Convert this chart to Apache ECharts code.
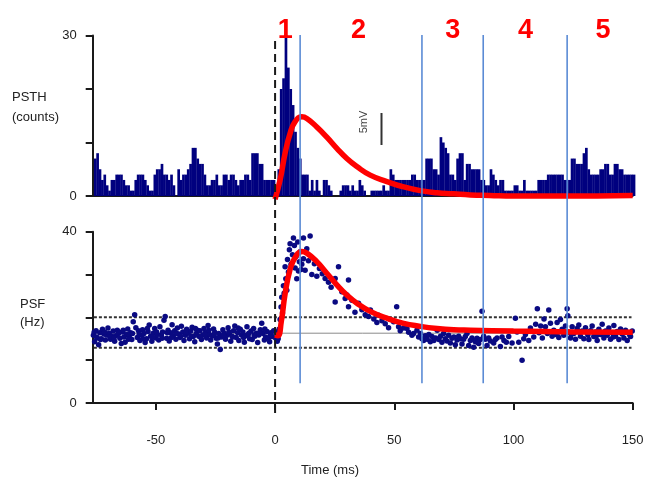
<!DOCTYPE html>
<html><head><meta charset="utf-8">
<script src="https://cdn.jsdelivr.net/npm/echarts@6/dist/echarts.min.js"></script>
<style>html,body{margin:0;padding:0;background:#fff}#c{width:652px;height:487px}</style>
</head><body><div id="c"></div>
<script>
// ---- data ----
const psthStart = -76; // first 1-ms bin start (ms)
const psthCounts = [
  7,8,5,3,4,2,1,3,3,4, 4,4,3,2,2,1,1,3,4,4, 4,3,2,1,1,4,5,5,6,4,
  4,3,4,2,0,5,3,4,4,5, 6,9,9,7,6,6,4,2,2,3, 3,4,2,2,4,4,3,4,4,3,
  2,3,3,4,4,3,8,8,8,6, 6,3,3,3,3,3,
  1,5,20,22,30,24,20,17,12,9,7,4,4,4,
  1,3,1,3,1,0,3,3,2,1, 0,0,0,1,2,2,2,1,2,1, 1,3,2,1,0,0,1,1,1,1,
  1,2,1,1,5,4,3,3,3,3, 3,3,3,4,4,3,3,
  3,3,7,7,7,5,5,4,11,10, 9,8,4,4,3,7,8,8,3,6, 6,5,5,5,5,3,3,2,2,5,
  4,3,2,3,3,1,1,1,1,2, 2,1,1,3,1,
  1,1,1,1,3,3,3,3,4,4, 4,4,4,4,4,3,3,3,7,7, 6,6,6,8,9,5,4,4,4,4,
  5,5,6,6,4,4,6,6,5,5, 4,4,4,4,4
];
const psfPoints = [
  [-76.2,15.8],[-75.7,14.3],[-75.1,16.9],[-74.6,15.2],[-74.0,13.6],[-73.5,16.4],[-72.9,15.0],[-72.4,17.2],[-71.8,16.1],[-71.2,14.7],
  [-70.7,15.9],[-70.1,17.5],[-69.6,16.3],[-69.0,14.9],[-68.5,15.6],[-67.9,16.8],[-67.3,14.4],[-66.8,15.7],[-66.2,17.0],[-65.7,16.2],
  [-65.1,15.1],[-64.5,13.9],[-64.0,16.6],[-63.4,15.4],[-62.9,14.2],[-62.3,16.0],[-61.8,17.3],[-61.2,15.5],[-60.6,16.4],[-60.1,14.8],
  [-59.5,19.0],[-58.9,20.6],[-58.4,17.6],[-57.8,15.3],[-57.3,16.9],[-56.7,14.6],[-56.1,15.8],[-55.6,17.1],[-55.0,16.2],[-54.5,14.1],
  [-53.9,15.0],[-53.3,16.7],[-52.8,18.2],[-52.2,15.6],[-51.7,14.4],[-51.1,16.3],[-50.5,17.4],[-50.0,15.2],[-49.4,16.0],[-48.8,14.7],
  [-48.3,17.8],[-47.7,15.9],[-47.2,16.6],[-46.6,19.3],[-46.1,20.2],[-45.5,15.1],[-44.9,17.0],[-44.4,14.5],[-43.8,16.4],[-43.2,18.3],
  [-42.7,15.7],[-42.1,16.9],[-41.6,14.9],[-41.0,17.5],[-40.4,16.1],[-39.9,15.3],[-39.3,17.9],[-38.7,16.6],[-38.2,14.6],[-37.6,15.8],
  [-37.1,17.2],[-36.5,16.3],[-35.9,15.0],[-35.4,16.8],[-34.8,17.7],[-34.3,15.5],[-33.7,14.3],[-33.1,16.2],[-32.6,17.0],[-32.0,15.6],
  [-31.5,16.9],[-30.9,14.8],[-30.3,15.9],[-29.8,17.4],[-29.2,16.4],[-28.7,15.2],[-28.1,18.1],[-27.5,16.0],[-27.0,14.7],[-26.4,15.7],
  [-25.8,17.3],[-25.3,16.5],[-24.7,15.1],[-24.2,13.8],[-23.6,16.2],[-23.0,12.5],[-22.5,15.4],[-21.9,17.1],[-21.4,16.3],[-20.8,14.9],
  [-20.2,15.8],[-19.7,17.6],[-19.1,16.1],[-18.6,14.4],[-18.0,15.5],[-17.4,16.9],[-16.9,18.0],[-16.3,15.3],[-15.7,16.4],[-15.2,14.6],
  [-14.6,17.2],[-14.1,15.9],[-13.5,16.6],[-12.9,14.2],[-12.4,15.7],[-11.8,17.8],[-11.3,16.0],[-10.7,15.0],[-10.1,16.8],[-9.6,14.8],
  [-9.0,17.4],[-8.5,15.6],[-7.9,16.3],[-7.3,14.1],[-6.8,15.9],[-6.2,17.1],[-5.6,18.6],[-5.1,16.2],[-4.5,14.7],[-4.0,15.4],
  [-3.4,16.7],[-2.8,15.1],[-2.3,14.3],[-1.7,16.4],[-1.2,15.5],[-0.6,16.9],
  [-75.9,16.5],[-74.9,15.4],[-73.2,14.8],[-71.5,16.6],[-69.3,15.4],[-67.6,15.2],[-65.4,16.5],[-63.7,17.0],[-61.5,14.9],[-59.8,16.2],
  [-57.0,16.0],[-55.3,15.0],[-53.6,17.4],[-51.4,15.4],[-49.7,16.6],[-47.4,15.1],[-45.2,16.4],[-43.5,15.3],[-41.3,16.2],[-39.6,15.6],
  [-37.4,16.6],[-35.1,15.6],[-33.4,17.4],[-31.2,15.4],[-29.5,16.0],[-27.8,17.0],[-25.6,15.9],[-23.9,15.2],[-21.7,15.8],[-19.4,16.6],
  [-17.7,15.4],[-15.5,17.5],[-13.2,15.3],[-11.0,16.3],[-8.8,15.9],[-6.5,16.4],[-4.3,17.3],[-2.0,15.8],
  [0.2,15.2],[0.6,16.6],[0.9,14.4],[1.3,15.0],[1.7,17.2],[2.1,19.5],[2.5,22.4],[2.8,24.7],[3.1,21.0],[3.5,27.4],
  [3.8,25.6],[4.2,31.8],[4.5,29.0],[4.9,26.3],[5.2,33.5],[5.6,30.6],[6.0,35.8],[6.3,37.2],[6.7,32.4],[7.0,40.5],
  [7.3,34.6],[7.7,38.5],[8.1,36.8],[8.4,31.5],[8.8,34.2],[9.1,29.0],[9.5,37.6],[9.8,30.8],[10.2,33.0],[10.5,35.3],
  [10.9,31.2],[11.2,32.4],[11.9,38.5],[11.9,33.7],[12.6,31.0],[13.3,36.0],[14.0,33.2],[14.7,39.0],[15.4,30.0],[16.5,32.5],
  [17.5,29.6],[18.6,31.4],[19.8,30.2],[21.0,29.1],[22.4,28.2],[23.5,27.0],[25.2,29.1],[25.2,23.6],[26.6,31.8],[28.0,26.0],
  [29.4,24.4],[30.1,25.2],[30.8,28.7],[30.8,22.5],[32.2,24.0],[33.5,21.2],[35.0,23.3],[36.4,21.8],[37.8,20.6],[39.2,20.2],
  [40.0,21.7],[41.4,19.6],[42.7,18.8],[43.4,20.5],[44.8,19.2],[46.2,18.5],[47.6,17.6],[48.3,19.5],[49.7,19.0],[51.0,22.5],
  [51.8,17.8],[52.5,16.9],[53.9,17.5],[55.3,17.4],[56.0,16.5],[57.4,15.8],[58.1,16.2],[59.5,17.0],[60.2,15.4],[61.0,16.2],
  [61.6,15.0],[62.3,14.6],[63.0,15.7],[63.8,14.9],[64.5,16.0],[65.1,14.3],[65.8,15.5],[66.6,14.6],[67.3,15.2],[68.0,17.0],
  [68.7,14.8],[69.4,15.6],[70.0,14.2],[70.7,16.2],[71.4,15.0],[72.1,14.5],[72.8,15.8],[73.5,14.0],[74.2,15.1],[75.0,15.4],
  [75.6,13.6],[76.3,14.7],[77.0,15.6],[77.7,15.0],[78.4,13.8],[79.1,14.9],[79.8,15.5],[80.5,16.2],[81.2,13.4],[81.9,14.6],
  [82.6,15.2],[83.3,13.0],[84.0,14.3],[84.7,15.1],[85.4,13.9],[86.1,14.8],[86.8,21.4],[87.5,15.6],[88.9,13.4],[90.3,14.5],
  [91.7,14.0],[93.1,15.2],[94.5,13.2],[96.0,14.6],[98.0,15.5],[99.4,14.0],[100.8,19.8],[101.5,16.6],[102.2,14.2],[103.6,10.0],
  [104.3,15.0],[105.0,16.0],[106.4,14.6],[107.1,17.5],[108.5,15.4],[109.3,18.4],[110.0,22.0],[110.7,16.4],[111.4,18.0],[112.1,15.2],
  [112.8,19.6],[113.4,17.8],[114.2,16.2],[114.8,21.7],[115.5,18.6],[116.2,15.6],[116.9,17.0],[117.6,16.0],[118.3,18.8],[119.0,15.3],
  [119.7,19.5],[120.4,17.2],[121.1,15.8],[121.8,18.0],[122.5,22.0],[122.8,20.4],[123.2,16.6],[123.9,15.2],[124.6,17.8],[125.3,16.2],
  [126.0,14.9],[126.7,17.4],[127.4,18.2],[128.1,15.6],[128.8,16.8],[129.5,15.0],[130.2,17.6],[130.9,16.4],[131.6,14.8],[132.3,16.9],
  [133.0,18.0],[133.7,15.5],[134.4,16.6],[135.1,14.6],[135.8,17.2],[136.5,16.0],[137.2,18.4],[137.9,15.2],[138.6,16.8],[139.3,15.8],
  [140.0,17.5],[140.7,14.9],[141.4,16.4],[142.1,18.1],[142.8,15.6],[143.5,16.7],[144.2,14.8],[144.9,17.3],[145.6,16.1],[146.3,15.2],
  [147.0,17.0],[147.7,14.6],[148.4,16.3],[149.1,15.5],[149.8,16.8],
  [83.8,14.6],[85.0,14.1],[88.2,14.9],[89.6,15.2],[92.4,14.8],[95.2,15.4],[97.0,14.2],[118.8,16.5],[120.9,16.9],[124.2,16.0],
  [127.8,16.5],[131.2,15.9],[134.8,15.7],[138.2,16.2],[141.8,15.4],[145.2,16.4],[148.8,15.9]
];
const epspTopT = [0, 2.1, 4.2, 6.3, 8.4, 11.2, 13.3, 17.5, 21.7, 25.9, 30.1, 34.3, 39.9, 46.9, 53.9, 60.9, 67.9, 74.9, 81.9, 90, 100, 120, 150];
const epspTopV = [-0.6, 3, 8, 11.7, 13.9, 14.8, 14.5, 12.9, 11, 8.9, 7, 5.5, 3.9, 2.7, 1.7, 1, 0.6, 0.4, 0.2, 0.1, 0, 0, 0.1];
const epspBotT = [0, 1.2, 2.6, 4.2, 6.3, 8.4, 11.2, 13.3, 17.5, 21.7, 25.9, 30.1, 34.3, 39.9, 46.9, 53.9, 60.9, 67.9, 74.9, 81.9, 100, 125, 150];
const epspBotV = [15.9, 15.7, 19.0, 25.5, 31.2, 34.0, 35.4, 35.0, 33.0, 30.3, 27.6, 25.2, 23.3, 21.4, 19.8, 18.6, 17.9, 17.4, 17.1, 17.0, 16.8, 16.6, 16.5];
const boundaryTimes = [10.5, 61.6, 87.3, 122.5];
const regionLabelTimes = [4.3, 35, 74.5, 105, 137.5];
const regionLabels = ['1', '2', '3', '4', '5'];
const xTicks = [-50, 0, 50, 100, 150];
const psfUpper = 20, psfLower = 12.9, psfMean = 16.3;
const xMin = -76.5, xMax = 150;

// ---- style constants ----
const FONT = '"Liberation Sans", Arial, sans-serif';
const NAVY = '#00007f';
const RED = '#ff0000';
const BLUE = '#5b8bd5';
const AX = '#1a1a1a';
const GL = 92.7, GR = 19.3;

const chart = echarts.init(document.getElementById('c'), null, {renderer: 'canvas'});

const yLbl = (lo, hi) => ({
  formatter: v => (v === lo || v === hi) ? String(v) : '',
  margin: 16, color: '#222', fontSize: 13, fontFamily: FONT
});

const option = {
  animation: false,
  backgroundColor: '#fff',
  grid: [
    {left: GL, right: GR, top: 35.5, height: 160.5},
    {left: GL, right: GR, top: 231.7, height: 171.3},
    {left: GL, right: GR, top: 15, height: 398}
  ],
  xAxis: [
    {gridIndex: 0, type: 'value', min: xMin, max: xMax,
      axisLine: {show: true, onZero: false, lineStyle: {color: AX, width: 2}},
      axisTick: {show: false}, axisLabel: {show: false}, splitLine: {show: false}},
    {gridIndex: 1, type: 'value', min: xMin, max: xMax,
      axisLine: {show: true, onZero: false, lineStyle: {color: AX, width: 2}},
      axisTick: {show: true, customValues: xTicks, length: 7, lineStyle: {color: AX, width: 2}},
      axisLabel: {customValues: xTicks, margin: 31, color: '#222', fontSize: 13, fontFamily: FONT},
      splitLine: {show: false}},
    {gridIndex: 2, type: 'value', min: xMin, max: xMax, show: false}
  ],
  yAxis: [
    {gridIndex: 0, type: 'value', min: 0, max: 30, interval: 10,
      axisLine: {show: true, onZero: false, lineStyle: {color: AX, width: 2}},
      axisTick: {show: true, length: 7, lineStyle: {color: AX, width: 2}},
      axisLabel: yLbl(0, 30), splitLine: {show: false}},
    {gridIndex: 1, type: 'value', min: 0, max: 40, interval: 10,
      axisLine: {show: true, onZero: false, lineStyle: {color: AX, width: 2}},
      axisTick: {show: true, length: 7, lineStyle: {color: AX, width: 2}},
      axisLabel: yLbl(0, 40), splitLine: {show: false}},
    {gridIndex: 2, type: 'value', min: 0, max: 1, show: false}
  ],
  series: [
    {
      type: 'custom', xAxisIndex: 0, yAxisIndex: 0, z: 2, clip: false,
      data: psthCounts.map((c, i) => [psthStart + i, c]),
      encode: {x: 0, y: 1},
      renderItem: (params, api) => {
        const t = api.value(0), c = api.value(1);
        if (!c) return null;
        const p1 = api.coord([t, c]);
        const p2 = api.coord([t + 1, 0]);
        return {type: 'rect', shape: {x: p1[0], y: p1[1], width: p2[0] - p1[0] + 0.3, height: p2[1] - p1[1]},
          style: {fill: NAVY}};
      }
    },
    {
      type: 'line', xAxisIndex: 0, yAxisIndex: 0, z: 5, smooth: true, showSymbol: false,
      data: epspTopT.map((t, i) => [t, epspTopV[i]]),
      lineStyle: {color: RED, width: 5.5}, clip: false
    },
    {
      type: 'line', xAxisIndex: 1, yAxisIndex: 1, z: 1, showSymbol: false,
      data: [[xMin + 0.5, psfUpper], [xMax - 0.5, psfUpper]],
      lineStyle: {color: '#333', width: 2, type: [3, 2]}
    },
    {
      type: 'line', xAxisIndex: 1, yAxisIndex: 1, z: 1, showSymbol: false,
      data: [[xMin + 0.5, psfLower], [xMax - 0.5, psfLower]],
      lineStyle: {color: '#333', width: 2, type: [3, 2]}
    },
    {
      type: 'line', xAxisIndex: 1, yAxisIndex: 1, z: 1, showSymbol: false,
      data: [[xMin + 0.5, psfMean], [xMax - 0.5, psfMean]],
      lineStyle: {color: '#8a8a8a', width: 1}
    },
    {
      type: 'scatter', xAxisIndex: 1, yAxisIndex: 1, z: 2,
      data: psfPoints, symbolSize: 5.5,
      itemStyle: {color: '#0a0a82', opacity: 1}
    },
    {
      type: 'line', xAxisIndex: 1, yAxisIndex: 1, z: 5, smooth: true, showSymbol: false,
      data: epspBotT.map((t, i) => [t, epspBotV[i]]),
      lineStyle: {color: RED, width: 5.5}
    },
    ...boundaryTimes.map(t => ({
      type: 'line', xAxisIndex: 2, yAxisIndex: 2, z: 6, showSymbol: false,
      data: [[t, 0.075], [t, 0.95]],
      lineStyle: {color: BLUE, width: 1.6}
    })),
    {
      type: 'line', xAxisIndex: 2, yAxisIndex: 2, z: 7, showSymbol: false,
      data: [[0, 0], [0, 0.947]],
      lineStyle: {color: '#1a1a1a', width: 2, type: [8, 5]}
    },
    {
      type: 'scatter', xAxisIndex: 2, yAxisIndex: 2, z: 8, symbolSize: 1,
      itemStyle: {color: 'rgba(0,0,0,0)', opacity: 1},
      data: regionLabelTimes.map((t, i) => ({value: [t, 0.962], name: regionLabels[i]})),
      label: {show: true, position: 'inside', formatter: p => p.name, opacity: 1,
        color: RED, fontSize: 27, fontWeight: 'bold', fontFamily: FONT}
    }
  ],
  graphic: [
    {type: 'text', left: 12, top: 91, style: {text: 'PSTH', fill: '#222', font: '13px ' + FONT}},
    {type: 'text', left: 12, top: 111, style: {text: '(counts)', fill: '#222', font: '13px ' + FONT}},
    {type: 'text', left: 20, top: 298, style: {text: 'PSF', fill: '#222', font: '13px ' + FONT}},
    {type: 'text', left: 20, top: 316, style: {text: '(Hz)', fill: '#222', font: '13px ' + FONT}},
    {type: 'text', x: 330, y: 470, style: {text: 'Time (ms)', fill: '#222', font: '13px ' + FONT, align: 'center', verticalAlign: 'middle'}},
    {type: 'text', x: 364, y: 122, rotation: Math.PI / 2,
      style: {text: '5mV', fill: '#444', font: '11px ' + FONT, align: 'center', verticalAlign: 'middle'}},
    {type: 'line', shape: {x1: 381.5, y1: 113, x2: 381.5, y2: 145}, style: {stroke: '#333', lineWidth: 2}}
  ]
};
chart.setOption(option);
</script>
</body></html>
